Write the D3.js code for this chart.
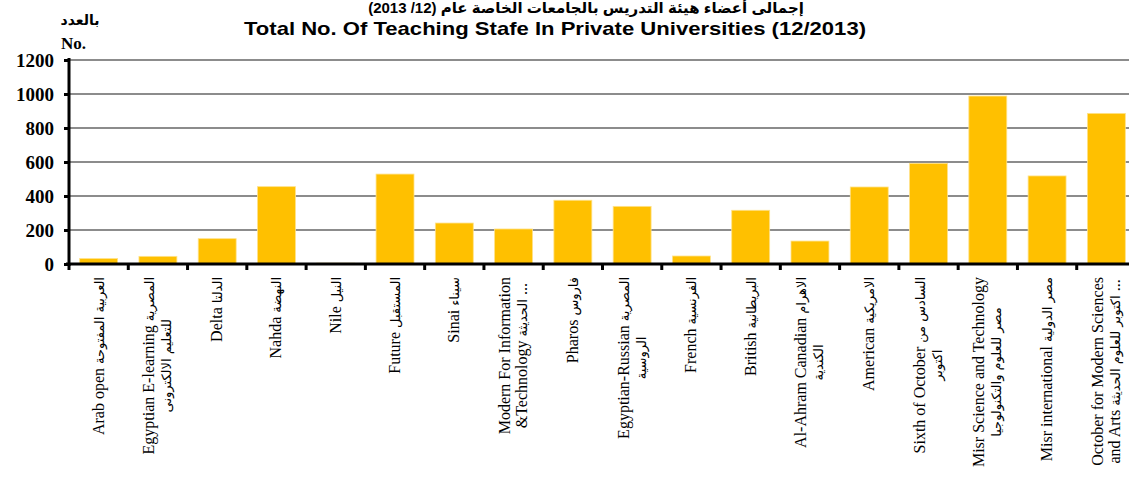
<!DOCTYPE html>
<html>
<head>
<meta charset="utf-8">
<script src="https://cdn.jsdelivr.net/npm/d3@7"></script>
<style>
  body { margin: 0; background: #fff; }
  svg { display: block; }
</style>
</head>
<body>
<div id="chart"></div>
<script>
// Universidades (líneas de etiqueta) y número de profesores
const categories = [
  ['Arab open العربية المفتوحة'],
  ['Egyptian E-learning  المصرية', 'للتعليم الالكترونى'],
  ['Delta الدلتا'],
  ['Nahda النهضة'],
  ['Nile النيل'],
  ['Future المستقبل'],
  ['Sinai سيناء'],
  ['Modern For Information', '&Technology  الحديثة ...'],
  ['Pharos فاروس'],
  ['Egyptian-Russian  المصرية', 'الروسية'],
  ['French الفرنسية'],
  ['British البريطانية'],
  ['Al-Ahram Canadian  الاهرام', 'الكندية'],
  ['American الامريكية'],
  ['Sixth of October  السادس من', 'اكتوبر'],
  ['Misr Science and Technology', 'مصر للعلوم والتكنولوجيا'],
  ['Misr international مصر الدولية'],
  ['October for Modern Sciences', 'and Arts  اكتوبر للعلوم الحديثة ...']
];
const values = [32, 45, 149, 455, 5, 529, 241, 206, 375, 339, 47, 316, 135, 453, 592, 988, 518, 886];
const yTicks = [0, 200, 400, 600, 800, 1000, 1200];

const titleAr = 'إجمالى أعضاء هيئة التدريس بالجامعات الخاصة عام (12/ 2013)';
const titleEn = 'Total No. Of Teaching Stafe In Private Universities (12/2013)';

const width = 1129, height = 481;
const plotLeft = 69, plotRight = 1136, plotTop = 60, plotBottom = 264;

const svg = d3.select('#chart').append('svg')
  .attr('width', width)
  .attr('height', height);

const x = d3.scaleBand()
  .domain(d3.range(categories.length))
  .range([plotLeft, plotRight])
  .paddingInner(0.36)
  .paddingOuter(0.18);

const y = d3.scaleLinear()
  .domain([0, 1200])
  .range([plotBottom, plotTop]);

// Líneas de cuadrícula
svg.append('g')
  .selectAll('line')
  .data(yTicks.filter(d => d > 0))
  .join('line')
  .attr('x1', plotLeft)
  .attr('x2', width)
  .attr('y1', d => y(d))
  .attr('y2', d => y(d))
  .attr('stroke', '#8c8c8c')
  .attr('stroke-width', 2);

// Barras
svg.append('g')
  .selectAll('rect')
  .data(values)
  .join('rect')
  .attr('x', (d, i) => x(i))
  .attr('y', d => y(d))
  .attr('width', x.bandwidth())
  .attr('height', d => Math.max(1, plotBottom - y(d)))
  .attr('fill', d => d < 10 ? '#7a5c00' : '#ffc000')
  .attr('stroke', '#ffe28a')
  .attr('stroke-width', 0.8);

// Eje Y
const yAxis = svg.append('g')
  .attr('transform', `translate(${plotLeft},0)`)
  .call(d3.axisLeft(y).tickValues(yTicks).tickFormat(d3.format('d')).tickSize(5).tickPadding(10));
yAxis.select('.domain').remove();
yAxis.selectAll('.tick line').attr('stroke', '#000').attr('stroke-width', 3);
yAxis.selectAll('.tick text')
  .attr('font-family', '"Liberation Serif", "Times New Roman", serif')
  .attr('font-weight', 'bold')
  .attr('font-size', 19)
  .attr('fill', '#000');
svg.append('line')
  .attr('x1', plotLeft).attr('x2', plotLeft)
  .attr('y1', plotTop - 2).attr('y2', plotBottom + 2)
  .attr('stroke', '#000').attr('stroke-width', 3);

// Eje X
const boundaries = d3.range(categories.length + 1).map(i => plotLeft + i * x.step());
svg.append('g')
  .selectAll('line')
  .data(boundaries)
  .join('line')
  .attr('x1', d => d).attr('x2', d => d)
  .attr('y1', plotBottom).attr('y2', plotBottom + 6)
  .attr('stroke', '#000').attr('stroke-width', 3);
svg.append('line')
  .attr('x1', plotLeft - 3).attr('x2', width)
  .attr('y1', plotBottom).attr('y2', plotBottom)
  .attr('stroke', '#000').attr('stroke-width', 3);

// Etiquetas de categoría (rotadas); los tramos árabes van algo más pequeños
const lh = 17;
const arabicRun = /([\u0600-\u06FF][\u0600-\u06FF\s]*)/;
const labels = svg.append('g')
  .selectAll('g')
  .data(categories)
  .join('g')
  .attr('transform', (d, i) => `translate(${x(i) + x.bandwidth() / 2},277) rotate(-90)`)
  .attr('font-family', '"Liberation Serif", "Times New Roman", serif')
  .attr('font-size', 16)
  .attr('fill', '#000');

labels.each(function(lines) {
  const g = d3.select(this);
  const texts = lines.map((t, j) => {
    const text = g.append('text')
      .attr('text-anchor', 'middle')
      .attr('dy', ((j - (lines.length - 1) / 2) * lh + 5) + 'px');
    t.split(arabicRun).filter(s => s.length).forEach(s => {
      const span = text.append('tspan').text(s);
      if (arabicRun.test(s)) {
        span.attr('font-family', '"DejaVu Sans", sans-serif').attr('font-size', 13);
      }
    });
    return text;
  });
  const maxLen = d3.max(texts, t => t.node().getComputedTextLength());
  texts.forEach(t => t.attr('x', -maxLen / 2));
});

// Títulos
svg.append('text')
  .attr('x', 586)
  .attr('y', 13)
  .attr('text-anchor', 'middle')
  .attr('direction', 'rtl')
  .attr('font-family', '"Liberation Sans", Arial, "DejaVu Sans", sans-serif')
  .attr('font-weight', 'bold')
  .attr('font-size', 15)
  .text(titleAr);

svg.append('text')
  .attr('x', 555)
  .attr('y', 35)
  .attr('text-anchor', 'middle')
  .attr('font-family', '"Liberation Sans", Arial, sans-serif')
  .attr('font-weight', 'bold')
  .attr('font-size', 19)
  .attr('textLength', 622)
  .attr('lengthAdjust', 'spacingAndGlyphs')
  .text(titleEn);

// Etiqueta del eje Y
svg.append('text')
  .attr('x', 80)
  .attr('y', 25)
  .attr('text-anchor', 'middle')
  .attr('font-family', '"DejaVu Sans", sans-serif')
  .attr('font-weight', 'bold')
  .attr('font-size', 14)
  .text('بالعدد');

svg.append('text')
  .attr('x', 61)
  .attr('y', 49)
  .attr('font-family', '"Liberation Serif", "Times New Roman", serif')
  .attr('font-weight', 'bold')
  .attr('font-size', 17)
  .text('No.');
</script>
</body>
</html>
